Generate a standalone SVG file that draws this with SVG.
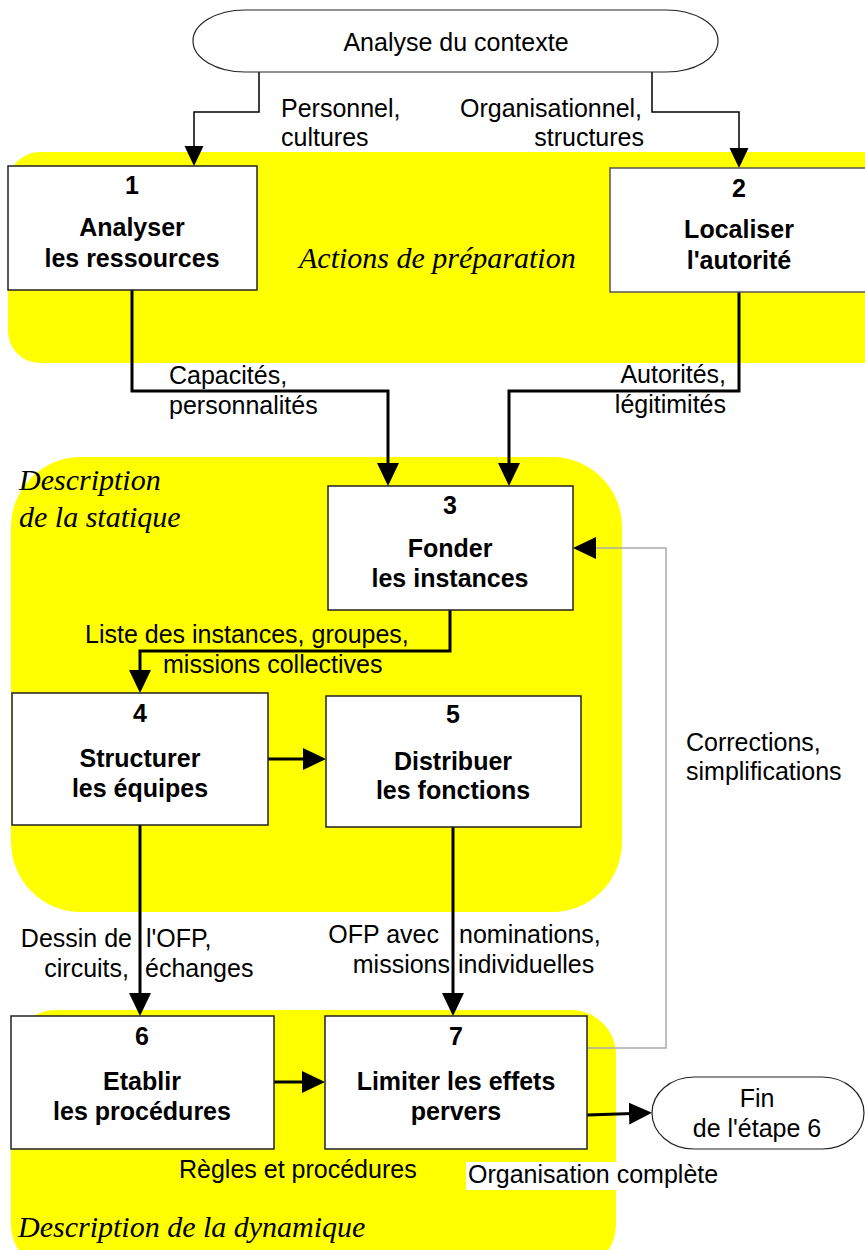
<svg xmlns="http://www.w3.org/2000/svg" width="865" height="1250" viewBox="0 0 865 1250">
  <style>
    .zone { fill: #ffff00; }
    .box { fill: #ffffff; stroke: #222222; stroke-width: 1.5; }
    .term { fill: #ffffff; stroke: #222222; stroke-width: 1.2; }
    .num, .title { font-family: "Liberation Sans", Arial, sans-serif; font-size: 25px; font-weight: bold; fill: #000; text-anchor: middle; }
    .lbl { font-family: "Liberation Sans", Arial, sans-serif; font-size: 25px; fill: #000; }
    .mid { text-anchor: middle; }
    .end { text-anchor: end; }
    .zlbl { font-family: "Liberation Serif", "Times New Roman", serif; font-style: italic; font-size: 30px; fill: #000; }
    .thin { fill: none; stroke: #000; stroke-width: 1.5; marker-end: url(#hthin); }
    .thick { fill: none; stroke: #000; stroke-width: 3; marker-end: url(#hthick); }
    .loop { fill: none; stroke: #aaaaaa; stroke-width: 1.5; marker-end: url(#hthick); }
  </style>
  <defs>
    <marker id="hthick" markerUnits="userSpaceOnUse" markerWidth="24" markerHeight="23" refX="19" refY="11" orient="auto">
      <path d="M0,0 L23,11 L0,22 Z" fill="#000"/>
    </marker>
    <marker id="hthin" markerUnits="userSpaceOnUse" markerWidth="21" markerHeight="20" refX="17" refY="9.5" orient="auto">
      <path d="M0,0 L20,9.5 L0,19 Z" fill="#000"/>
    </marker>
  </defs>

  <rect width="865" height="1250" fill="#ffffff"/>

  <!-- background zones -->
  <g id="zones">
    <rect id="zone-preparation" class="zone" x="8" y="152" width="890" height="211" rx="32" ry="32"/>
    <rect id="zone-statique" class="zone" x="11" y="457" width="611" height="455" rx="70" ry="70"/>
    <rect id="zone-dynamique" class="zone" x="11" y="1010" width="605" height="260" rx="45" ry="45"/>
    <text class="zlbl" x="299" y="268">Actions de préparation</text>
    <text class="zlbl" x="19" y="490">Description</text>
    <text class="zlbl" x="19" y="527">de la statique</text>
    <text class="zlbl" x="18" y="1237">Description de la dynamique</text>
  </g>

  <!-- connectors -->
  <g id="connectors">
    <path class="thin" d="M259,72 V112 H194 V163"/>
    <path class="thin" d="M652,72 V112 H739 V165"/>
    <path class="thick" d="M132,290 V391 H388 V482"/>
    <path class="thick" d="M739,292 V391 H509 V482"/>
    <path class="loop" d="M587,1048 H666 V548 H577"/>
    <path class="thick" d="M450,610 V651 H140 V689"/>
    <path class="thick" d="M268,759 H322"/>
    <path class="thick" d="M140,825 V1012"/>
    <path class="thick" d="M453,827 V1012"/>
    <path class="thick" d="M274,1082 H321"/>
    <path class="thick" d="M587,1115 L648,1113"/>
  </g>

  <!-- connector labels -->
  <g id="labels">
    <text class="lbl" x="281" y="117">Personnel,</text>
    <text class="lbl" x="281" y="146">cultures</text>
    <text class="lbl" x="460" y="117">Organisationnel,</text>
    <text class="lbl end" x="644" y="146">structures</text>
    <text class="lbl" x="169" y="384">Capacités,</text>
    <text class="lbl" x="169" y="414">personnalités</text>
    <text class="lbl end" x="726" y="383">Autorités,</text>
    <text class="lbl end" x="726" y="413">légitimités</text>
    <text class="lbl" x="85" y="643">Liste des instances, groupes,</text>
    <text class="lbl" x="163" y="673">missions collectives</text>
    <text class="lbl" x="686" y="751">Corrections,</text>
    <text class="lbl" x="686" y="780">simplifications</text>
    <text class="lbl end" x="132" y="947">Dessin de</text>
    <text class="lbl" x="146" y="947">l'OFP,</text>
    <text class="lbl end" x="129" y="977">circuits,</text>
    <text class="lbl" x="145" y="977">échanges</text>
    <text class="lbl end" x="439" y="943">OFP avec</text>
    <text class="lbl" x="459" y="943">nominations,</text>
    <text class="lbl end" x="450" y="973">missions</text>
    <text class="lbl" x="458" y="973">individuelles</text>
    <text class="lbl" x="179" y="1178">Règles et procédures</text>
    <rect x="466" y="1162" width="150" height="28" fill="#ffffff"/>
    <text class="lbl" x="468" y="1183">Organisation complète</text>
  </g>

  <!-- start terminal -->
  <g id="start">
    <rect class="term" x="193" y="10" width="525" height="62" rx="52" ry="31"/>
    <text class="lbl mid" x="456" y="51">Analyse du contexte</text>
  </g>

  <g id="n1">
    <rect class="box" x="8" y="166" width="249" height="124"/>
    <text class="num" x="132" y="194">1</text>
    <text class="title" x="132" y="236">Analyser</text>
    <text class="title" x="132" y="267">les ressources</text>
  </g>

  <g id="n2">
    <rect class="box" x="610" y="168" width="260" height="124" style="stroke:#555"/>
    <text class="num" x="739" y="197">2</text>
    <text class="title" x="739" y="238">Localiser</text>
    <text class="title" x="739" y="269">l'autorité</text>
  </g>

  <g id="n3">
    <rect class="box" x="328" y="486" width="245" height="124"/>
    <text class="num" x="450" y="514">3</text>
    <text class="title" x="450" y="557">Fonder</text>
    <text class="title" x="450" y="587">les instances</text>
  </g>

  <g id="n4">
    <rect class="box" x="12" y="693" width="256" height="132"/>
    <text class="num" x="140" y="722">4</text>
    <text class="title" x="140" y="767">Structurer</text>
    <text class="title" x="140" y="797">les équipes</text>
  </g>

  <g id="n5">
    <rect class="box" x="326" y="696" width="255" height="131"/>
    <text class="num" x="453" y="723">5</text>
    <text class="title" x="453" y="770">Distribuer</text>
    <text class="title" x="453" y="799">les fonctions</text>
  </g>

  <g id="n6">
    <rect class="box" x="11" y="1016" width="263" height="133"/>
    <text class="num" x="142" y="1045">6</text>
    <text class="title" x="142" y="1090">Etablir</text>
    <text class="title" x="142" y="1120">les procédures</text>
  </g>

  <g id="n7">
    <rect class="box" x="325" y="1016" width="262" height="133"/>
    <text class="num" x="456" y="1045">7</text>
    <text class="title" x="456" y="1090">Limiter les effets</text>
    <text class="title" x="456" y="1120">pervers</text>
  </g>

  <!-- end terminal -->
  <g id="end">
    <rect class="term" x="652" y="1077" width="212" height="72" rx="42" ry="36"/>
    <text class="lbl mid" x="757" y="1107">Fin</text>
    <text class="lbl mid" x="757" y="1137">de l'étape 6</text>
  </g>
</svg>
